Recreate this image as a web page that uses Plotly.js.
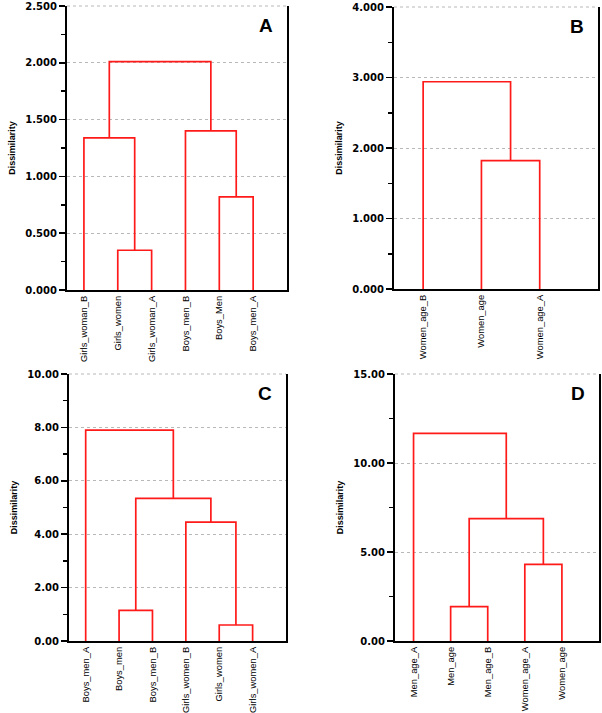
<!DOCTYPE html>
<html>
<head>
<meta charset="utf-8">
<script src="https://cdn.plot.ly/plotly-3.0.1.min.js"></script>
<style>html,body{margin:0;padding:0;background:#fff;}#chart{width:602px;height:713px;}</style>
</head>
<body>
<div id="chart"></div>
<script>
// ---------- DATA ----------
// Panel A
const labelsA = ["Girls_woman_B", "Girls_women", "Girls_woman_A", "Boys_men_B", "Boys_Men", "Boys_men_A"];
const mergesA = [[1, 2], [0, 6], [4, 5], [3, 8], [7, 9]];
const heightsA = [0.35, 1.34, 0.82, 1.40, 2.01];
// Panel B
const labelsB = ["Women_age_B", "Women_age", "Women_age_A"];
const mergesB = [[1, 2], [0, 3]];
const heightsB = [1.82, 2.94];
// Panel C
const labelsC = ["Boys_men_A", "Boys_men", "Boys_men_B", "Girls_women_B", "Girls_women", "Girls_women_A"];
const mergesC = [[4, 5], [1, 2], [3, 6], [7, 8], [0, 9]];
const heightsC = [0.60, 1.15, 4.45, 5.34, 7.90];
// Panel D
const labelsD = ["Men_age_A", "Men_age", "Men_age_B", "Women_age_A", "Women_age"];
const mergesD = [[1, 2], [3, 4], [5, 6], [0, 7]];
const heightsD = [1.93, 4.31, 6.88, 11.66];
const panelLetters = ["A", "B", "C", "D"];
const yAxisTitle = "Dissimilarity";

// ---------- BUILD ----------
function dendro(labels, merges, heights) {
  const nx = labels.map((_, i) => i);
  const ny = labels.map(() => 0);
  const xs = [], ys = [];
  merges.forEach((m, k) => {
    const a = m[0], b = m[1], h = heights[k];
    xs.push(nx[a], nx[a], nx[b], nx[b], null);
    ys.push(ny[a], h, h, ny[b], null);
    nx.push((nx[a] + nx[b]) / 2);
    ny.push(h);
  });
  return {xs, ys};
}

const W = 602, H = 713;
const panels = [
  {labels: labelsA, merges: mergesA, heights: heightsA, box: [67, 287, 6, 290], ymax: 2.5, dtick: 0.5, minor: 0.25, fmt: ".3f"},
  {labels: labelsB, merges: mergesB, heights: heightsB, box: [394, 598, 7, 289], ymax: 4, dtick: 1, minor: 0.5, fmt: ".3f"},
  {labels: labelsC, merges: mergesC, heights: heightsC, box: [69, 286, 374, 641], ymax: 10, dtick: 2, minor: 1, fmt: ".2f"},
  {labels: labelsD, merges: mergesD, heights: heightsD, box: [395, 599, 374, 641], ymax: 15, dtick: 5, minor: 2.5, fmt: ".2f"}
];

const traces = [];
const layout = {
  width: W, height: H,
  margin: {l: 0, r: 0, t: 0, b: 0},
  paper_bgcolor: "#fff", plot_bgcolor: "#fff",
  showlegend: false,
  annotations: [],
  shapes: []
};

panels.forEach((p, i) => {
  const s = i === 0 ? "" : String(i + 1);
  const d = dendro(p.labels, p.merges, p.heights);
  traces.push({
    type: "scatter", mode: "lines",
    x: d.xs, y: d.ys,
    xaxis: "x" + s, yaxis: "y" + s,
    line: {color: "#ff1a1a", width: 1.7},
    hoverinfo: "skip"
  });
  const [x0, x1, y0, y1] = p.box;
  layout["xaxis" + s] = {
    domain: [x0 / W, x1 / W],
    anchor: "y" + s,
    range: [-0.5, p.labels.length],
    tickmode: "array",
    tickvals: p.labels.map((_, j) => j),
    ticktext: p.labels,
    tickangle: -90,
    ticks: "",
    ticklabelstandoff: 0,
    showgrid: false, zeroline: false,
    showline: true, linecolor: "#000", linewidth: 2,
    tickfont: {family: "Liberation Sans, Arial, sans-serif", size: 9.4, color: "#000"},
    fixedrange: true
  };
  layout["yaxis" + s] = {
    domain: [(H - y1) / H, (H - y0) / H],
    anchor: "x" + s,
    range: [0, p.ymax],
    tick0: 0, dtick: p.dtick,
    tickformat: p.fmt,
    ticks: "outside", ticklen: 6, tickwidth: 1.5, tickcolor: "#000",
    minor: {dtick: p.minor, tick0: 0, ticks: "outside", ticklen: 4, tickwidth: 1.5, tickcolor: "#000", showgrid: false},
    showline: true, linecolor: "#000", linewidth: 2, mirror: true,
    showgrid: true, gridcolor: "#b8b8b8", gridwidth: 1, griddash: "dot",
    zeroline: false,
    tickfont: {family: "DejaVu Sans, sans-serif", size: 10, color: "#000", weight: "bold"},
    title: {text: yAxisTitle, standoff: 8, font: {family: "Liberation Sans, Arial, sans-serif", size: 9, color: "#000", weight: "bold"}},
    fixedrange: true
  };
  // dotted top border (gridline at the axis maximum)
  layout.shapes.push({
    type: "line", xref: "x" + s + " domain", yref: "y" + s + " domain",
    x0: 0, x1: 1, y0: 1, y1: 1,
    line: {color: "#b8b8b8", width: 1, dash: "dot"}, layer: "below"
  });
  layout.annotations.push({
    text: panelLetters[i],
    xref: "paper", yref: "paper",
    x: (x1 - 12) / W, y: (H - (y0 + 19)) / H,
    xanchor: "right", yanchor: "middle",
    showarrow: false,
    font: {family: "Liberation Sans, Arial, sans-serif", size: 19, color: "#000", weight: "bold"}
  });
});

Plotly.newPlot("chart", traces, layout, {displayModeBar: false, staticPlot: true});
</script>
</body>
</html>
